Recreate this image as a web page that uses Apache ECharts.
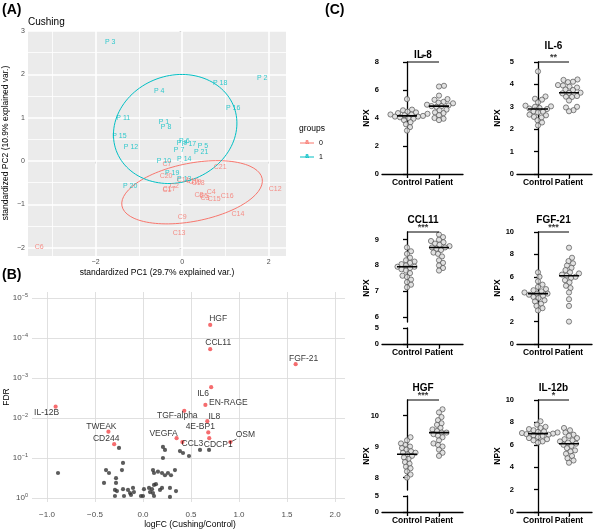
<!DOCTYPE html>
<html><head><meta charset="utf-8">
<script src="https://cdn.jsdelivr.net/npm/echarts@6/dist/echarts.min.js"></script>
<style>html,body{margin:0;padding:0;background:#fff}#c{width:600px;height:531px}</style>
</head><body><div id="c"></div>
<script>
// ================= Panel A : PCA biplot =================
const pcaPNames = ['P 1','P 2','P 3','P 4','P 5','P 6','P 7','P 8','P 9','P 10','P 11','P 12','P 13','P 14','P 15','P 16','P 17','P 18','P 19','P 20','P 21'];
const pcaPX = [-0.42, 1.85, -1.66, -0.53, 0.48, 0.05, -0.07, -0.37, 0.00, -0.42, -1.36, -1.18, 0.05, 0.05, -1.45, 1.18, 0.16, 0.88, -0.23, -1.20, 0.44];
const pcaPY = [0.90, 1.92, 2.75, 1.62, 0.35, 0.45, 0.25, 0.79, 0.42, 0.00, 1.00, 0.32, -0.42, 0.05, 0.58, 1.22, 0.39, 1.80, -0.28, -0.58, 0.21];
const pcaCNames = ['C1','C2','C3','C4','C5','C6','C7','C8','C9','C10','C11','C12','C13','C14','C15','C16','C17','C18','C19','C20','C21'];
const pcaCX = [-0.35, -0.18, 0.53, 0.67, 0.50, -3.30, -0.35, 0.39, 0.00, 0.23, 0.02, 2.15, -0.07, 1.29, 0.74, 1.04, -0.30, 0.37, 0.30, -0.37, 0.88];
const pcaCY = [-0.67, -0.58, -0.85, -0.71, -0.80, -1.99, -0.07, -0.79, -1.29, -0.46, -0.44, -0.65, -1.66, -1.22, -0.88, -0.81, -0.65, -0.51, -0.48, -0.35, -0.14];
// ellipse parameters: centre x, centre y, semi-axis a, semi-axis b, rotation (deg)
const ellipseP = [-0.16, 0.74, 1.45, 1.23, 20];
const ellipseC = [0.23, -0.72, 1.65, 0.67, 11];
const pcaXTicks = [-2, 0, 2];
const pcaXMinor = [-3, -1, 1];
const pcaYTicks = [-2, -1, 0, 1, 2, 3];
const pcaYMinor = [-1.5, -0.5, 0.5, 1.5, 2.5];

// ================= Panel B : volcano =================
const volNames = ['HGF','CCL11','FGF-21','IL6','EN-RAGE','TGF-alpha','IL8','4E-BP1','VEGFA','CCL3','CDCP1','OSM','TWEAK','CD244','IL-12B'];
const volLogFC = [0.70, 0.70, 1.59, 0.71, 0.65, 0.43, 0.67, 0.68, 0.35, 0.41, 0.69, 0.91, -0.36, -0.30, -0.91];
const volFDR = [4.7e-5, 1.9e-4, 4.5e-4, 1.7e-3, 4.7e-3, 6.6e-3, 1.2e-2, 2.3e-2, 3.2e-2, 4.0e-2, 3.2e-2, 4.0e-2, 2.2e-2, 4.5e-2, 5.2e-3];
const volOtherLogFC = [-0.885,-0.25,-0.208,-0.219,-0.385,-0.354,-0.406,-0.281,-0.281,-0.292,-0.271,-0.292,-0.208,-0.198,-0.156,-0.135,-0.125,-0.104,-0.094,-0.021,0.0,0.010,0.063,0.073,0.094,0.104,0.115,0.135,0.115,0.104,0.115,0.156,0.198,0.229,0.177,0.198,0.208,0.229,0.208,0.26,0.292,0.333,0.281,0.344,0.281,0.385,0.417,0.479,0.594,0.688];
const volOtherFDR = [0.237,0.056,0.133,0.20,0.20,0.237,0.42,0.32,0.42,0.63,0.67,0.89,0.60,0.89,0.63,0.75,0.84,0.56,0.71,0.89,0.89,0.60,0.56,0.71,0.60,0.75,0.47,0.45,0.89,0.20,0.237,0.22,0.237,0.27,0.63,0.56,0.053,0.063,0.10,0.237,0.27,0.20,0.56,0.67,0.94,0.067,0.075,0.089,0.063,0.063];
const volXTicks = [-1, -0.5, 0, 0.5, 1, 1.5, 2];
const volYTicks = [0, 1, 2, 3, 4, 5]; // -log10(FDR)

// ================= Panel C : NPX dot plots =================
const groupNames = ['Control', 'Patient'];
const il8Control = [5.35,4.6,4.55,4.45,4.4,4.35,4.3,4.25,4.25,4.2,4.15,4.1,4.1,4.05,4.0,3.95,3.85,3.7,3.55,3.35,3.1];
const il8Patient = [6.3,6.25,5.6,5.35,5.3,5.15,5.1,5.05,4.95,4.9,4.85,4.85,4.8,4.6,4.55,4.4,4.35,4.2,4.0,3.95,3.85];
const il6Control = [4.58,3.46,3.36,3.32,3.2,3.05,3.02,3.0,2.95,2.92,2.9,2.8,2.78,2.75,2.65,2.62,2.55,2.52,2.4,2.3,2.17];
const il6Patient = [4.22,4.2,4.12,4.1,3.97,3.95,3.9,3.86,3.77,3.75,3.63,3.62,3.6,3.48,3.45,3.44,3.28,3.0,2.97,2.85,2.8];
const ccl11Control = [8.7,8.55,8.45,8.3,8.2,8.15,8.1,8.05,8.0,7.95,7.95,7.9,7.85,7.8,7.7,7.6,7.55,7.45,7.35,7.25,7.15];
const ccl11Patient = [9.35,9.2,9.1,9.0,8.95,8.9,8.85,8.8,8.75,8.7,8.7,8.65,8.6,8.5,8.45,8.35,8.2,8.1,8.0,7.9,7.8];
const fgf21Control = [6.4,6.0,5.6,5.3,5.1,4.9,4.8,4.7,4.6,4.5,4.5,4.4,4.3,4.2,4.1,3.9,3.8,3.6,3.4,3.2,3.0];
const fgf21Patient = [8.6,7.7,7.4,7.2,7.0,6.8,6.6,6.4,6.3,6.2,6.1,6.0,5.9,5.7,5.5,5.2,5.0,4.6,4.0,3.4,2.0];
const hgfControl = [9.3,9.2,9.1,9.05,9.0,8.95,8.9,8.85,8.8,8.8,8.75,8.7,8.65,8.6,8.5,8.45,8.35,8.3,8.2,8.1,8.0];
const hgfPatient = [10.2,10.1,9.95,9.85,9.75,9.7,9.6,9.55,9.5,9.45,9.45,9.4,9.35,9.3,9.2,9.1,9.05,9.0,8.9,8.8,8.7];
const il12bControl = [8.1,7.8,7.6,7.5,7.4,7.3,7.2,7.15,7.1,7.05,7.0,6.95,6.9,6.85,6.8,6.7,6.6,6.5,6.4,6.3,6.2];
const il12bPatient = [7.5,7.3,7.1,6.9,6.8,6.6,6.5,6.4,6.3,6.2,6.1,6.0,5.9,5.7,5.5,5.4,5.2,5.0,4.8,4.6,4.4];

// ================= build =================
const FONT = '"Liberation Sans", Arial, Helvetica, sans-serif';
const CYAN = '#00BFC4', SALMON = '#F8766D';
const chart = echarts.init(document.getElementById('c'), null, {renderer: 'canvas', width: 600, height: 531});
const grids = [], xAxes = [], yAxes = [], series = [], graphics = [];
const addGrid = g => (grids.push(g), grids.length - 1);
const addX = a => (xAxes.push(a), xAxes.length - 1);
const addY = a => (yAxes.push(a), yAxes.length - 1);
const minus = s => String(s).replace('-', '\u2212');
function txt(text, x, y, o) {
  o = o || {};
  graphics.push({type: 'text', x: x, y: y, rotation: o.rot || 0, silent: true, z: 100,
    style: {text: text, fill: o.color || '#000', fontSize: o.size || 9, fontWeight: o.bold ? 'bold' : 'normal',
      fontFamily: FONT, align: o.align || 'center', verticalAlign: 'middle'}});
}

// ---- Panel A
const A_XMIN = -3.56, A_XMAX = 2.40, A_YMIN = -2.19, A_YMAX = 3.0;
const gA = addGrid({left: 28, top: 31, width: 258, height: 225, show: true, backgroundColor: '#EBEBEB', borderWidth: 0});
const xA = addX({gridIndex: gA, type: 'value', min: A_XMIN, max: A_XMAX, axisLine: {show: false},
  axisTick: {show: true, length: 2.5, lineStyle: {color: '#333', width: 0.8}, customValues: pcaXTicks},
  axisLabel: {customValues: pcaXTicks, color: '#4D4D4D', fontSize: 7, margin: 3, fontFamily: FONT, formatter: minus},
  splitLine: {show: false}});
const yA = addY({gridIndex: gA, type: 'value', min: A_YMIN, max: A_YMAX, axisLine: {show: false},
  axisTick: {show: true, length: 2.5, lineStyle: {color: '#333', width: 0.8}, customValues: pcaYTicks},
  axisLabel: {customValues: pcaYTicks, color: '#4D4D4D', fontSize: 7, margin: 3, fontFamily: FONT, formatter: minus},
  splitLine: {show: false}});
// ggplot-style white panel grid (major + minor), drawn through the axes' scales
const gridMajor = [], gridMinor = [];
pcaXMinor.forEach(v => gridMinor.push({coords: [[v, A_YMIN], [v, A_YMAX]]}));
pcaYMinor.forEach(v => gridMinor.push({coords: [[A_XMIN, v], [A_XMAX, v]]}));
pcaXTicks.forEach(v => gridMajor.push({coords: [[v, A_YMIN], [v, A_YMAX]]}));
pcaYTicks.forEach(v => gridMajor.push({coords: [[A_XMIN, v], [A_XMAX, v]]}));
[[gridMinor, 0.8], [gridMajor, 1.6]].forEach(([d, w]) => series.push({type: 'lines', coordinateSystem: 'cartesian2d',
  xAxisIndex: xA, yAxisIndex: yA, data: d, silent: true, z: 2, lineStyle: {color: '#FFFFFF', width: w, opacity: 1}}));

function ellipsePts(e) {
  const pts = [], t = e[4] * Math.PI / 180;
  for (let i = 0; i <= 120; i++) {
    const a = i / 120 * 2 * Math.PI, u = e[2] * Math.cos(a), v = e[3] * Math.sin(a);
    pts.push([e[0] + u * Math.cos(t) - v * Math.sin(t), e[1] + u * Math.sin(t) + v * Math.cos(t)]);
  }
  return pts;
}
[[ellipseC, SALMON], [ellipseP, CYAN]].forEach(([e, col]) => series.push({type: 'line', xAxisIndex: xA, yAxisIndex: yA,
  data: ellipsePts(e), symbol: 'none', silent: true, lineStyle: {color: col, width: 1}, z: 3}));
function pcaLabels(names, xs, ys, col) {
  series.push({type: 'scatter', xAxisIndex: xA, yAxisIndex: yA, symbolSize: 1, itemStyle: {color: 'rgba(0,0,0,0)'}, z: 4,
    data: names.map((n, i) => [xs[i], ys[i], n]),
    label: {show: true, position: 'inside', formatter: p => p.data[2], color: col, fontSize: 7, fontFamily: FONT}});
}
pcaLabels(pcaCNames, pcaCX, pcaCY, SALMON);
pcaLabels(pcaPNames, pcaPX, pcaPY, CYAN);

txt('(A)', 2, 10, {bold: true, size: 14, align: 'left'});
txt('Cushing', 28, 22, {size: 10, align: 'left'});
txt('standardized PC1 (29.7% explained var.)', 157, 273, {size: 8.5});
txt('standardized PC2 (10.9% explained var.)', 6, 143, {size: 8.5, rot: Math.PI / 2});
txt('groups', 299, 129, {size: 8.5, align: 'left'});
[[SALMON, '0', 143], [CYAN, '1', 157]].forEach(([col, lab, y]) => {
  graphics.push({type: 'line', shape: {x1: 300, y1: y, x2: 314, y2: y}, style: {stroke: col, lineWidth: 1}, silent: true});
  txt('a', 307, y - 0.5, {size: 6.5, color: col, bold: true});
  txt(lab, 319, y, {size: 7, align: 'left', color: '#000'});
});

// ---- Panel B
const gB = addGrid({left: 32, top: 292, width: 313, height: 210, show: false});
const xB = addX({gridIndex: gB, type: 'value', min: -1.156, max: 2.104, axisLine: {show: false},
  axisTick: {show: false, customValues: volXTicks},
  axisLabel: {customValues: volXTicks, color: '#4D4D4D', fontSize: 8, margin: 9, fontFamily: FONT, formatter: v => minus(v.toFixed(1))},
  splitLine: {show: true, lineStyle: {color: '#DDDDDD', width: 0.9}}});
const yB = addY({gridIndex: gB, type: 'value', min: -0.1, max: 5.15, axisLine: {show: false},
  axisTick: {show: false, customValues: volYTicks},
  axisLabel: {customValues: volYTicks, margin: 4, fontFamily: FONT,
    formatter: v => '{b|10}{s|' + (v === 0 ? '0' : '\u2212' + v) + '}',
    rich: {b: {fontSize: 8, color: '#4D4D4D', lineHeight: 11, fontFamily: FONT}, s: {fontSize: 5.5, color: '#4D4D4D', verticalAlign: 'top', lineHeight: 6, fontFamily: FONT}}},
  splitLine: {show: true, lineStyle: {color: '#DDDDDD', width: 0.9}}});
series.push({type: 'scatter', xAxisIndex: xB, yAxisIndex: yB, symbolSize: 4.2, itemStyle: {color: '#333333'},
  data: volOtherLogFC.map((x, i) => [x, -Math.log10(volOtherFDR[i])])});
const volLabelOffset = [[8,-6],[8,-6],[8,-5],[-8,6],[23,-2],[-7,5],[7,-5],[-8,-6],[-13,-5],[10,2],[9,6],[15,-7],[-7,-5],[-8,-5],[-9,6]];
series.push({type: 'scatter', xAxisIndex: xB, yAxisIndex: yB, symbolSize: 4.2, itemStyle: {color: '#F2474A'}, z: 5,
  data: volNames.map((n, i) => ({value: [volLogFC[i], -Math.log10(volFDR[i])], name: n,
    label: {show: true, position: 'inside', offset: volLabelOffset[i], formatter: n, color: '#000', fontSize: 8.5, fontFamily: FONT}}))});
// ggrepel-style connector for the OSM label (from the point towards its label offset)
const osm = volNames.indexOf('OSM');
series.push({type: 'line', xAxisIndex: xB, yAxisIndex: yB, symbol: 'none', silent: true, z: 4, lineStyle: {color: '#000', width: 0.6},
  data: [[volLogFC[osm], -Math.log10(volFDR[osm])], [volLogFC[osm] + 6 / 96, -Math.log10(volFDR[osm]) + 3 / 40]]});
txt('(B)', 2, 275, {bold: true, size: 14, align: 'left'});
txt('logFC (Cushing/Control)', 190, 525, {size: 8.5});
txt('FDR', 7, 397, {size: 8.5, rot: Math.PI / 2});

// ---- Panel C
const colGeo = [{left: 382, width: 81, cat: [25, 57], npx: 367}, {left: 517, width: 75, cat: [21, 52], npx: 498}];
const rowBottom = [174, 344, 512];
const cPanels = [
  {title: 'IL-8', sig: '*', ctrl: il8Control, pat: il8Patient, min: 0, max: 8, interval: 2, col: 0, row: 0, tdy: -7},
  {title: 'IL-6', sig: '**', ctrl: il6Control, pat: il6Patient, min: 0, max: 5, interval: 1, col: 1, row: 0, tdy: -16},
  {title: 'CCL11', sig: '***', ctrl: ccl11Control, pat: ccl11Patient, broken: {range: [5.8, 9.3], ticks: [6, 7, 8, 9]}, col: 0, row: 1, tdy: -12},
  {title: 'FGF-21', sig: '***', ctrl: fgf21Control, pat: fgf21Patient, min: 0, max: 10, interval: 2, col: 1, row: 1, tdy: -12},
  {title: 'HGF', sig: '***', ctrl: hgfControl, pat: hgfPatient, broken: {range: [7.6, 10.5], ticks: [8, 9, 10]}, col: 0, row: 2, tdy: -12},
  {title: 'IL-12b', sig: '*', ctrl: il12bControl, pat: il12bPatient, min: 0, max: 10, interval: 2, col: 1, row: 2, tdy: -12}
];
function swarm(vals, pxPerUnit, d) {
  const idx = vals.map((v, i) => i).sort((a, b) => vals[a] - vals[b]);
  const placed = [], off = new Array(vals.length);
  idx.forEach(i => {
    const y = vals[i] * pxPerUnit;
    for (let k = 0; k < 200; k++) {
      const x = k === 0 ? 0 : (k % 2 ? 1 : -1) * Math.ceil(k / 2) * 0.5;
      if (placed.every(p => (p[0] - x) ** 2 + (p[1] - y) ** 2 >= d * d)) { placed.push([x, y]); off[i] = x; break; }
    }
  });
  return off;
}
const median = a => { const s = [...a].sort((x, y) => x - y), n = s.length; return n % 2 ? s[(n - 1) / 2] : (s[n / 2 - 1] + s[n / 2]) / 2; };
const axBlack = {lineStyle: {color: '#000', width: 1.3}};
cPanels.forEach(p => {
  const cg = colGeo[p.col], bottom = rowBottom[p.row], top = bottom - 112;
  const unit = cg.cat[1] - cg.cat[0], xmin = -cg.cat[0] / unit, xmax = (cg.width - cg.cat[0]) / unit;
  const upBottom = p.broken ? bottom - 22 : bottom;
  const ymin = p.broken ? p.broken.range[0] : p.min, ymax = p.broken ? p.broken.range[1] : p.max;
  const xLab = {customValues: [0, 1], formatter: v => groupNames[v], fontWeight: 'bold', fontSize: 8.5, color: '#000', margin: 4, fontFamily: FONT};
  const g = addGrid({left: cg.left, top: top, width: cg.width, height: upBottom - top});
  const xi = addX({gridIndex: g, type: 'value', min: xmin, max: xmax, show: !p.broken,
    axisLine: axBlack, axisTick: {show: true, length: 4, lineStyle: {color: '#000', width: 1.3}, customValues: [0, 1]},
    axisLabel: xLab, splitLine: {show: false}});
  const yLab = {fontWeight: 'bold', fontSize: 7.5, color: '#000', margin: 3, fontFamily: FONT};
  const yTick = {show: true, length: 4, lineStyle: {color: '#000', width: 1.3}};
  const yi = addY(p.broken
    ? {gridIndex: g, type: 'value', min: ymin, max: ymax, axisLine: axBlack, axisTick: Object.assign({customValues: p.broken.ticks}, yTick),
       axisLabel: Object.assign({customValues: p.broken.ticks}, yLab), splitLine: {show: false}}
    : {gridIndex: g, type: 'value', min: ymin, max: ymax, interval: p.interval, axisLine: axBlack, axisTick: yTick, axisLabel: yLab, splitLine: {show: false}});
  if (p.broken) {
    const g2 = addGrid({left: cg.left, top: bottom - 16, width: cg.width, height: 16});
    addX({gridIndex: g2, type: 'value', min: xmin, max: xmax, axisLine: axBlack,
      axisTick: {show: true, length: 4, lineStyle: {color: '#000', width: 1.3}, customValues: [0, 1]}, axisLabel: xLab, splitLine: {show: false}});
    addY({gridIndex: g2, type: 'value', min: 0, max: 5, axisLine: axBlack, axisTick: Object.assign({customValues: [0, 5]}, yTick),
      axisLabel: Object.assign({customValues: [0, 5]}, yLab), splitLine: {show: false}});
  }
  const pyu = (upBottom - top) / (ymax - ymin);
  [p.ctrl, p.pat].forEach((vals, gi) => {
    const off = swarm(vals, pyu, 4.6);
    series.push({type: 'scatter', xAxisIndex: xi, yAxisIndex: yi, symbol: 'circle', symbolSize: 5.2, z: 3,
      itemStyle: {color: '#D9D9D9', borderColor: '#555555', borderWidth: 0.9},
      data: vals.map((v, i) => [gi + off[i] / unit, v])});
    const m = median(vals);
    series.push({type: 'line', xAxisIndex: xi, yAxisIndex: yi, symbol: 'none', silent: true, z: 4,
      lineStyle: {color: '#000', width: 1.6}, data: [[gi - 10 / unit, m], [gi + 10 / unit, m]]});
  });
  series.push({type: 'line', xAxisIndex: xi, yAxisIndex: yi, symbol: 'none', silent: true, clip: false, z: 4,
    lineStyle: {color: '#000', width: 1}, data: [[0, ymax], [1, ymax]]});
  series.push({type: 'scatter', xAxisIndex: xi, yAxisIndex: yi, symbolSize: 0, clip: false, silent: true,
    data: [[0.5, ymax]], label: {show: true, position: 'top', distance: 0, formatter: p.sig, fontWeight: 'bold', fontSize: 9, color: '#000', fontFamily: FONT}});
  txt(p.title, cg.left + (cg.cat[0] + cg.cat[1]) / 2, top + p.tdy, {bold: true, size: 10});
  txt('NPX', cg.npx, (top + bottom) / 2, {bold: true, size: 8.5, rot: Math.PI / 2});
});
txt('(C)', 325, 10, {bold: true, size: 14, align: 'left'});

chart.setOption({animation: false, textStyle: {fontFamily: FONT}, grid: grids, xAxis: xAxes, yAxis: yAxes, series: series, graphic: graphics});
</script></body></html>
